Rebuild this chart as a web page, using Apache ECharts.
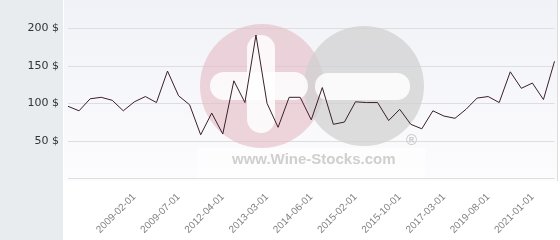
<!DOCTYPE html>
<html>
<head>
<meta charset="utf-8">
<script src="https://cdn.jsdelivr.net/npm/echarts@6/dist/echarts.min.js"></script>
<style>html,body{margin:0;padding:0;background:#fff}#c{width:560px;height:240px}</style>
</head>
<body>
<div id="c"></div>
<script>
const categories = ['2008-05-01','2008-07-01','2008-08-01','2008-10-01','2008-11-01','2009-01-01','2009-02-01','2009-03-01','2009-04-01','2009-06-01',
'2009-07-01','2010-06-01','2011-05-01','2011-12-01','2012-04-01','2012-08-01','2012-11-01','2013-01-01','2013-03-01','2013-07-01',
'2013-11-01','2014-02-01','2014-06-01','2014-08-01','2014-10-01','2014-12-01','2015-02-01','2015-04-01','2015-06-01','2015-08-01',
'2015-10-01','2016-02-01','2016-06-01','2016-10-01','2017-03-01','2017-11-01','2018-07-01','2019-02-01','2019-08-01','2019-12-01',
'2020-04-01','2020-08-01','2021-01-01','2021-06-01','2021-11-01'];
const prices = [96,90,106,108,104,90,102,109,101,143,
110,98,58,87,59,130,101,191,100,68,
108,108,78,121,72,75,102,101,101,77,
92,72,66,90,83,80,92,107,109,101,
142,120,127,105,156];
const tickLabels = ['2009-02-01','2009-07-01','2012-04-01','2013-03-01','2014-06-01','2015-02-01','2015-10-01','2017-03-01','2019-08-01','2021-01-01'];
const yTicks = [0,50,100,150,200];

const chart = echarts.init(document.getElementById('c'), null, {renderer:'canvas'});
chart.setOption({
  animation:false,
  backgroundColor:'#ffffff',
  graphic:[
    {type:'rect', z:-10, silent:true, shape:{x:0,y:0,width:63,height:240}, style:{fill:'#e8ecef'}},
    {type:'rect', z:-10, silent:true, shape:{x:64,y:0,width:493,height:181},
      style:{fill:new echarts.graphic.LinearGradient(0,0,0,1,[{offset:0,color:'#f1f2f7'},{offset:1,color:'#fcfcfe'}])}},
    {type:'rect', z:-10, silent:true, shape:{x:557,y:0,width:1,height:181}, style:{fill:'#dddddd'}},
    {type:'rect', z:1, silent:true, shape:{x:197,y:148,width:228,height:30}, style:{fill:'rgba(255,255,255,0.6)'}},
    {type:'circle', z:1, silent:true, shape:{cx:262,cy:86,r:62}, style:{fill:'rgba(228,186,197,0.6)'}},
    {type:'circle', z:1, silent:true, shape:{cx:364,cy:86,r:60}, style:{fill:'rgba(208,208,208,0.72)'}},
    {type:'rect', z:1, silent:true, shape:{x:247,y:35,width:28,height:98,r:14}, style:{fill:'rgba(255,255,255,0.85)'}},
    {type:'rect', z:1, silent:true, shape:{x:210,y:72,width:98,height:28,r:14}, style:{fill:'rgba(255,255,255,0.85)'}},
    {type:'rect', z:1, silent:true, shape:{x:315,y:73,width:95,height:27,r:13}, style:{fill:'rgba(255,255,255,0.85)'}},
    {type:'text', z:1, silent:true, left:232, top:152, style:{text:'www.Wine-Stocks.com', fill:'#cfcfcf', font:'bold 15px "Liberation Sans", Arial, sans-serif'}},
    {type:'text', z:1, silent:true, left:406, top:133, style:{text:'®', fill:'#cccccc', font:'bold 15px "Liberation Sans", Arial, sans-serif'}}
  ],
  grid:{left:68, right:5.5, top:28.3, bottom:61.7, containLabel:false},
  xAxis:{
    type:'category', data:categories, boundaryGap:false,
    axisLine:{show:false}, axisTick:{show:false},
    splitLine:{show:false},
    axisLabel:{rotate:45, color:'#808080', fontSize:10, fontFamily:'"Liberation Sans", Arial, sans-serif', margin:17,
      interval:(i,v)=>tickLabels.includes(v)}
  },
  yAxis:{
    type:'value', min:yTicks[0], max:yTicks[yTicks.length-1], interval:50,
    axisLine:{show:false}, axisTick:{show:false},
    splitLine:{lineStyle:{color:'#dedede', width:1}},
    axisLabel:{color:'#333333', fontSize:11, fontFamily:'DejaVu Sans', margin:9,
      formatter:v=> v===0 ? '' : v+' $'}
  },
  series:[{type:'line', data:prices, symbol:'none', z:3,
    lineStyle:{color:'#3b1f2b', width:1}}]
});
</script>
</body>
</html>
